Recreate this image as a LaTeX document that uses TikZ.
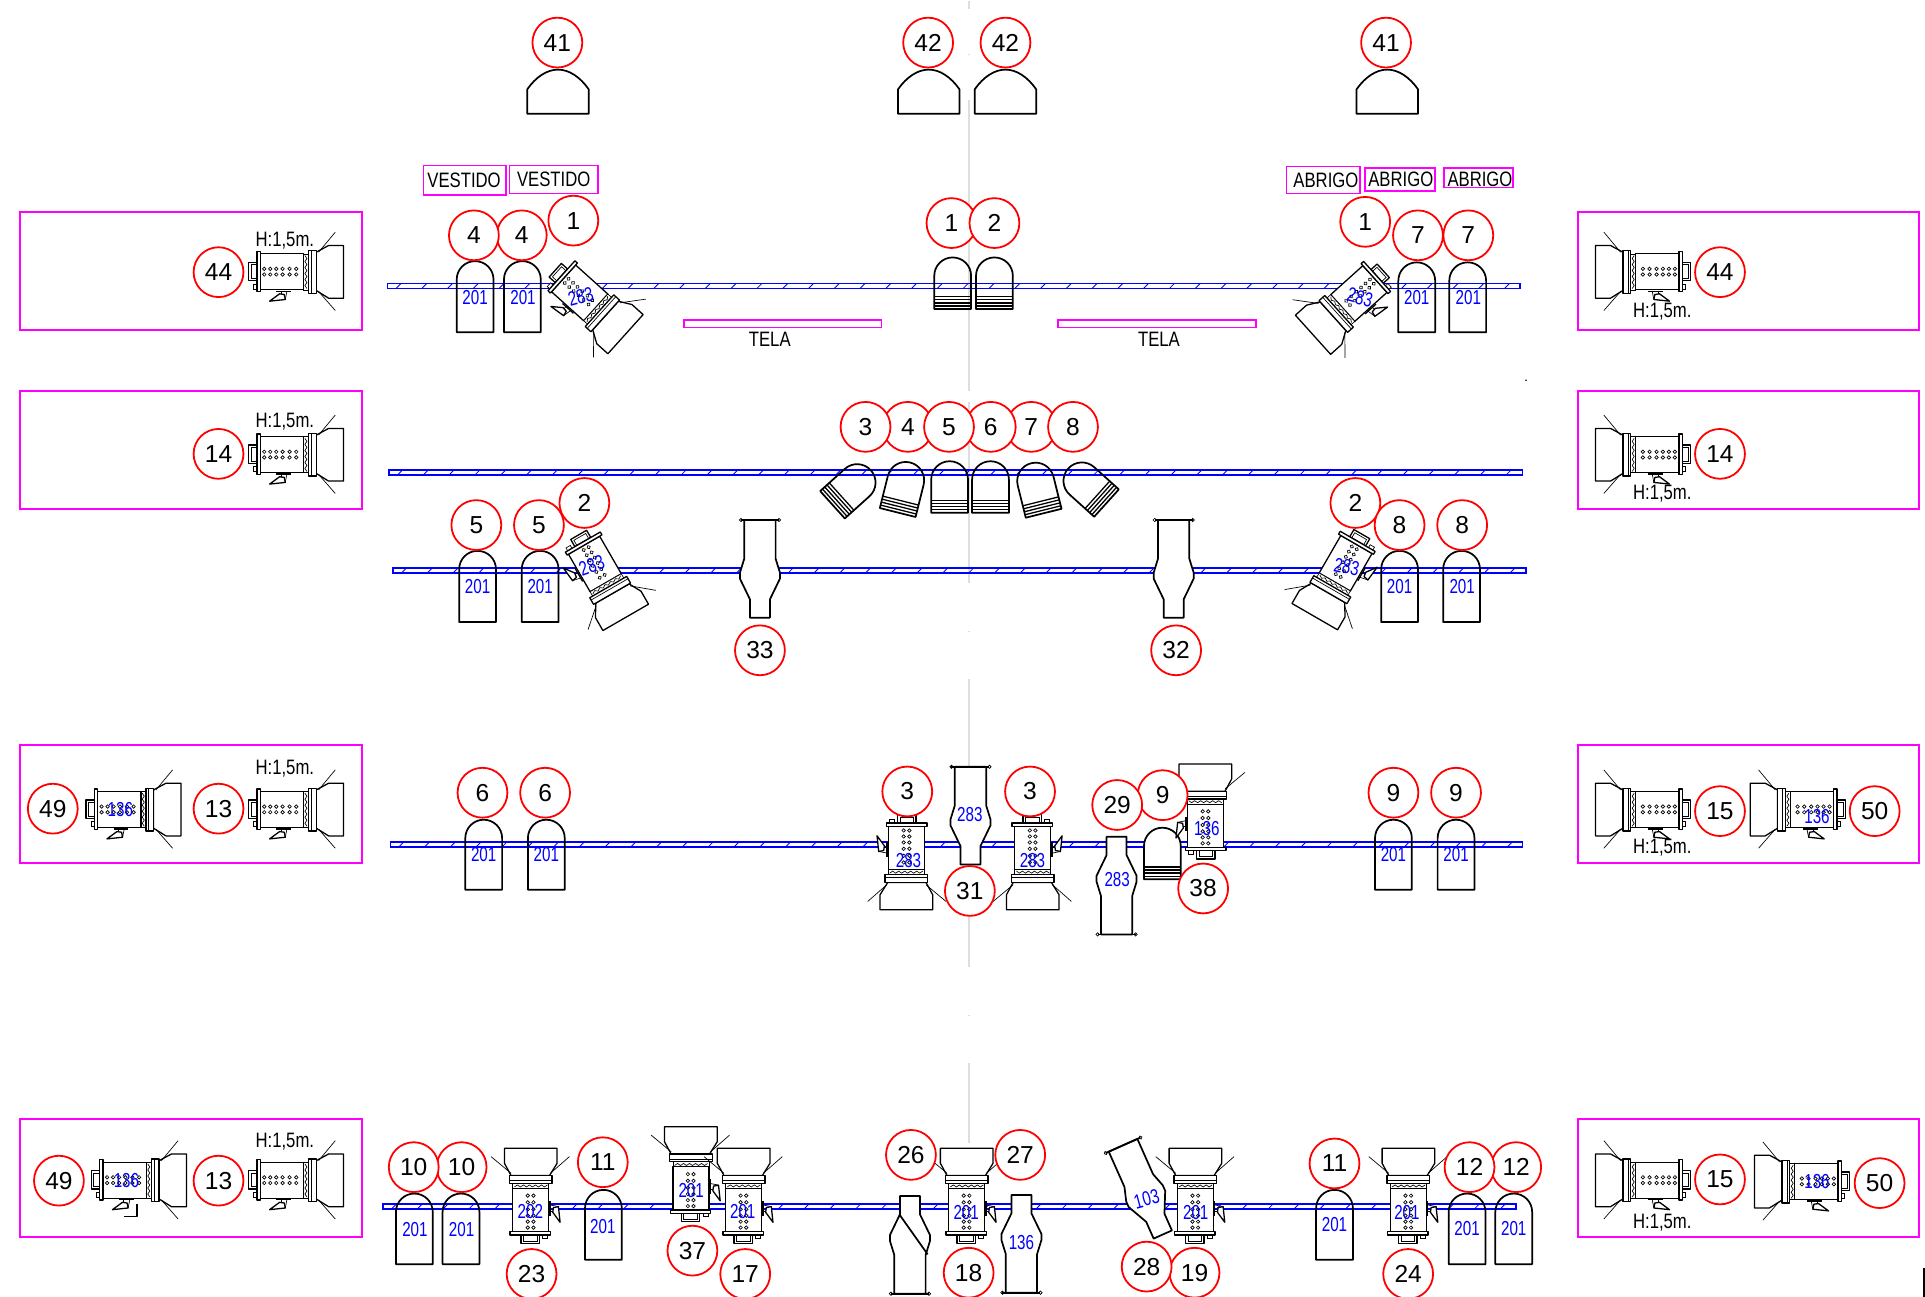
\documentclass[tikz,border=0pt]{standalone}
\usepackage{fontspec}
\usepackage{graphicx}
\setmainfont{Liberation Sans}
\definecolor{mag}{RGB}{255,0,255}
\definecolor{blu}{RGB}{0,0,255}
\definecolor{gry}{RGB}{222,222,222}
\newcounter{nn}
\tikzset{
  circ/.style={circle,draw=red,fill=white,line width=1.45pt,minimum size=40.6pt,inner sep=0pt,font=\fontsize{20}{24}\selectfont},
  blab/.style={inner sep=0pt,text=blu,font=\fontsize{16.5}{18}\selectfont},
  blk/.style={inner sep=0pt,font=\fontsize{17}{20}\selectfont},
  magbox/.style={draw=mag,line width=1.5pt},
  magtag/.style={draw=mag,line width=1.3pt,fill=none},
  outl/.style={draw=black,line width=1.4pt,line join=round},
  thn/.style={draw=black,line width=0.55pt},
  med/.style={draw=black,line width=1.05pt,line join=round}
}
\newcommand\cir[3]{\stepcounter{nn}\node[circ] (c\thenn) at (#1,#2) {#3};}
\newcommand\blue[4][0]{\stepcounter{nn}\node[blab,rotate=#1] (b\thenn) at (#2,#3) {\scalebox{.75}[1]{#4}};}
\newcommand\txt[3]{\stepcounter{nn}\node[blk] (t\thenn) at (#1,#2) {\scalebox{.8}[1]{#3}};}
\newcommand\rail[3]{%
  \foreach \tx in {0,21,...,920}{\draw[blu,line width=0.7pt] ({#1+7+\tx},#3+4) -- ({#1+11+\tx},#3);}
  \draw[blu,line width=1.35pt] (#1,#3) rectangle (#2,#3+4);}
% plain lamp: centre x, top, bottom
\newcommand\lamp[3]{\draw[outl] (#1-15,#3) -- (#1-15,#2+15) .. controls (#1-15,#2+6.7) and (#1-8.3,#2) .. (#1,#2) .. controls (#1+8.3,#2) and (#1+15,#2+6.7) .. (#1+15,#2+15) -- (#1+15,#3) -- cycle;}
% dome
\newcommand\dome[1]{\draw[outl] (#1-25,92) -- (#1-25,72) .. controls (#1-18,62) and (#1-9,56) .. (#1,56) .. controls (#1+9,56) and (#1+18,62) .. (#1+25,72) -- (#1+25,92) -- cycle;}
% banded lamp
\newcommand\band[4][]{\begin{scope}[shift={(#2,#3)},rotate=#4]
  \draw[outl,#1] (-15,21) -- (-15,-6) .. controls (-15,-14.3) and (-8.3,-21) .. (0,-21) .. controls (8.3,-21) and (15,-14.3) .. (15,-6) -- (15,21) -- cycle;
  \foreach \by in {11,13.5,16,18.5}{\draw[med] (-15,\by) -- (15,\by);}
\end{scope}}
% bottle with wide end at local top
\newcommand\bottle[4][]{\begin{scope}[shift={(#2,#3)},rotate=#4,scale=0.2715]
  \draw[outl,fill=white] (-47,-146) -- (-47,-30) -- (-60,12) -- (-60,30) -- (-30,92) -- (-30,147) -- (30,147) -- (30,92) -- (60,30) -- (60,12) -- (47,-30) -- (47,-146) -- cycle;
  \draw[outl] (-57,-146) -- (57,-146);
  \draw[thn] (-57,-146) circle (5);
  \draw[thn] (57,-146) circle (5);
  #1
\end{scope}}
% fresnel with barn doors, local +x = lens direction, y down = yoke side
\newcommand\fixture[3]{\begin{scope}[shift={(#1,#2)},#3,scale=0.2715]
  \draw[med,fill=white] (-105,-30) rectangle (-80,25);
  \draw[thn] (-98,-23) rectangle (-80,18);
  \draw[thn,fill=white] (-90,35) rectangle (-80,50);
  \draw[med,fill=white] (-70,-55) rectangle (60,53);
  \draw[med,fill=white] (-80,-63) rectangle (-70,58);
  \foreach \dx in {-58,-40,-22,-3,18,38}{\draw[thn] (\dx,-10) circle (5.2);\draw[thn] (\dx,7) circle (5.2);}
  \draw[thn,fill=white] (60,-55) rectangle (75,53);
  \draw[thn] (64,-50) -- (70,-41) -- (64,-32) -- (70,-23) -- (64,-14) -- (70,-5) -- (64,4) -- (70,13) -- (64,22) -- (70,31) -- (64,40) -- (70,49);
  \draw[med,fill=white] (98,-60) -- (135,-80) -- (180,-80) -- (180,78) -- (135,78) -- (98,55) -- cycle;
  \draw[med,fill=white] (75,-65) rectangle (98,63);
  \draw[thn] (83,-65) -- (83,63);
  \draw[thn] (105,-60) -- (155,-120);
  \draw[thn] (105,58) -- (155,115);
  \draw[med] (-22,57) -- (22,57);
  \draw[med,fill=white] (-42,87) -- (-12,65) -- (2,67) -- (5,82) -- cycle;
  \draw[thn] (-8,57) -- (-8,65);
  \draw[thn] (10,57) -- (5,82);
\end{scope}}
\begin{document}
\begin{tikzpicture}[x=1pt,y=-1pt]
\useasboundingbox (0,-0.7) rectangle (1568,1055.3);
% centre line
\foreach \ya/\yb in {0/7,43.5/44.5,81/318,327/474,513/514,552/787,826/827,865/930}{\draw[gry,line width=2pt] (789.5,\ya) -- (789.5,\yb);}
% rails
\rail{315.5}{1238}{230.3}
\rail{317}{1240}{382}
\rail{320}{1243}{462}
\rail{318}{1240}{685}
\rail{312}{1235}{980}
% magenta boxes
\draw[magbox] (16,172) rectangle (295,268);
\draw[magbox] (16,318) rectangle (295,414);
\draw[magbox] (16,606) rectangle (295,702);
\draw[magbox] (16,911) rectangle (295,1007);
\draw[magbox] (1285,172) rectangle (1563,268);
\draw[magbox] (1285,318) rectangle (1563,414);
\draw[magbox] (1285,606) rectangle (1563,702);
\draw[magbox] (1285,911) rectangle (1563,1007);
% tags
\draw[magtag] (345,134) rectangle (412,158);
\draw[magtag] (415,134) rectangle (487,157);
\draw[magtag] (1048,135) rectangle (1108,157);
\draw[magtag] (1112,136) rectangle (1169,155);
\draw[magtag] (1176,136) rectangle (1232.5,152);
\txt{378}{146.5}{VESTIDO}
\txt{451}{145.5}{VESTIDO}
\txt{1080}{146.5}{ABRIGO}
\txt{1141}{145.5}{ABRIGO}
\txt{1205.5}{145}{ABRIGO}
\draw[magtag] (557,260) rectangle (718,266);
\draw[magtag] (862,260) rectangle (1023,266);
\txt{627}{276}{TELA}
\txt{944}{276}{TELA}
\txt{232}{195}{H:1,5m.}
\txt{232}{343}{H:1,5m.}
\txt{232}{625}{H:1,5m.}
\txt{232}{929}{H:1,5m.}
\txt{1354}{253}{H:1,5m.}
\txt{1354}{401}{H:1,5m.}
\txt{1354}{690}{H:1,5m.}
\txt{1354}{995}{H:1,5m.}
% domes
\dome{454.5}\dome{756.5}\dome{819}\dome{1130}
% plain lamps
\lamp{387}{212}{270}\lamp{425.5}{212}{270}\lamp{1154}{213}{270}\lamp{1195.5}{213}{270}
\lamp{389}{448}{506}\lamp{440}{448}{506}\lamp{1140}{448}{506}\lamp{1190.5}{448}{506}
\lamp{394}{667}{724}\lamp{445}{667}{724}\lamp{1135}{667}{724}\lamp{1186}{667}{724}
\lamp{337.5}{971.5}{1029}\lamp{375.5}{971.5}{1029}\lamp{491.5}{968.5}{1025.5}\lamp{1087}{968.5}{1025.5}\lamp{1195}{971.5}{1029}\lamp{1233}{971.5}{1029}
% banded lamps
\band{776}{230}{0}\band{810}{230}{0}
\band{693.7}{396.4}{-48}\band{736.3}{396.4}{-14}\band{773.5}{396}{0}\band{806.8}{396}{0}\band{845}{397}{14}\band{885.7}{395}{48}
\band[fill=white]{946.8}{694.5}{0}
% bottles
\bottle{619}{462.5}{0}
\bottle{956}{462.5}{0}
\bottle{790.5}{663.5}{0}
\bottle{909.5}{720.8}{180}
\bottle[{\draw[outl] (32,92) -- (-53,-28);}]{741.2}{1013.4}{180}
\bottle{832}{1012.6}{180}
\bottle{930.9}{968.4}{24}
% fixtures
\fixture{231}{221}{}
\fixture{231}{370}{}
\fixture{231}{659}{}
\fixture{98.5}{659}{}
\fixture{231}{961}{}
\fixture{103}{961}{}
\draw[med] (101,990) -- (111.5,990) -- (111.5,980);
\fixture{1348.5}{221}{xscale=-1}
\fixture{1348.5}{370}{xscale=-1}
\fixture{1348.5}{659}{xscale=-1}
\fixture{1474.5}{659}{xscale=-1}
\fixture{1348.5}{961}{xscale=-1}
\fixture{1478}{962}{xscale=-1}
\fixture{473}{239}{rotate=-42}
\fixture{1106}{239.5}{rotate=42,xscale=-1}
\fixture{485}{460}{rotate=-60}
\fixture{1095.6}{459.4}{rotate=60,xscale=-1}
\fixture{738}{691.5}{rotate=-90}
\fixture{841.5}{691.5}{rotate=-90,yscale=-1}
\fixture{981.5}{670.5}{rotate=90,yscale=-1}
\fixture{432.6}{983.5}{rotate=90}
\fixture{563}{966}{rotate=90}
\fixture{606}{983.5}{rotate=90}
\fixture{787.7}{983.5}{rotate=90}
\fixture{974}{983.5}{rotate=90}
\fixture{1147.5}{983.5}{rotate=90}
% blue texts
\blue{387}{242}{201}\blue{426}{242}{201}\blue{1154}{242}{201}\blue{1196}{242}{201}
\blue[15]{473}{241}{283}\blue[-15]{1107.8}{241.6}{283}
\blue{389}{477}{201}\blue{440}{477}{201}\blue{1140}{477}{201}\blue{1191}{477}{201}
\blue[20]{482}{460}{283}\blue[-12]{1097}{461}{283}
\blue{394}{695}{201}\blue{445}{695}{201}\blue{1135}{695}{201}\blue{1186}{695}{201}
\blue{740}{700}{283}\blue{841}{700}{283}\blue{790}{663}{283}\blue{910}{716}{283}\blue{983}{674}{136}
\blue{98}{659}{136}\blue{103}{961}{136}\blue{1480}{664}{136}\blue{1480}{962}{136}
\blue{338}{1001}{201}\blue{376}{1001}{201}\blue{491}{998}{201}\blue{1087}{997}{201}\blue{1195}{1000}{201}\blue{1233}{1000}{201}
\blue{432}{986}{202}\blue{563}{969}{201}\blue{605}{986}{201}\blue{787}{987}{201}\blue{974}{987}{201}\blue{1146}{987}{201}
\blue{832}{1011}{136}\blue[15]{934}{976}{103}
% circles
\cir{454}{34}{41}\cir{1129}{34}{41}\cir{756}{34}{42}\cir{819}{34}{42}
\cir{425}{191}{4}\cir{386}{191}{4}\cir{467}{179}{1}\cir{775}{181}{1}\cir{810}{181}{2}\cir{1112}{180}{1}\cir{1155}{191}{7}\cir{1196}{191}{7}
\cir{178}{221}{44}\cir{1401}{221}{44}\cir{178}{369}{14}\cir{1401}{369}{14}
\cir{739.5}{347}{4}\cir{840}{347}{7}\cir{807}{347}{6}\cir{705}{347}{3}\cir{773}{347}{5}\cir{874}{347}{8}
\cir{388}{427}{5}\cir{439}{427}{5}\cir{476}{409}{2}\cir{1104}{409}{2}\cir{1140}{427}{8}\cir{1191}{427}{8}\cir{619}{529}{33}\cir{958}{529}{32}
\cir{393}{645}{6}\cir{444}{645}{6}\cir{739}{644}{3}\cir{839}{644}{3}\cir{790}{725}{31}\cir{947}{647}{9}\cir{910}{655}{29}\cir{980}{723}{38}\cir{1135}{645}{9}\cir{1186}{645}{9}
\cir{43}{658}{49}\cir{178}{658}{13}\cir{1401}{660}{15}\cir{1527}{660}{50}
\cir{48}{961}{49}\cir{178}{961}{13}\cir{376}{950}{10}\cir{337}{950}{10}\cir{491}{946}{11}\cir{433}{1037}{23}\cir{564}{1018}{37}\cir{607}{1037}{17}
\cir{742}{940}{26}\cir{831}{940}{27}\cir{789}{1036}{18}\cir{973}{1036}{19}\cir{934}{1031}{28}\cir{1087}{947}{11}\cir{1235}{950}{12}\cir{1197}{950}{12}\cir{1147}{1037}{24}\cir{1401}{960}{15}\cir{1531}{963}{50}
% specks
\fill (1243,309) circle (0.7);
\draw[black,line width=1.6pt] (1567,1032) -- (1567,1056);
\end{tikzpicture}
\end{document}
